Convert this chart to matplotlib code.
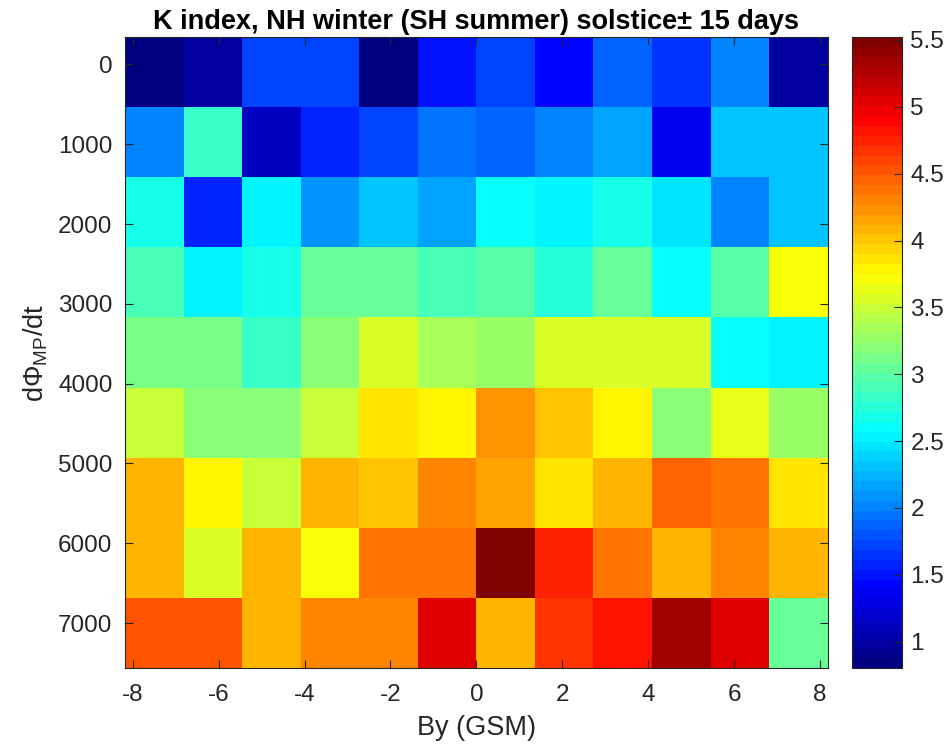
import numpy as np
import matplotlib
matplotlib.use("Agg")
import matplotlib.pyplot as plt
from matplotlib.colors import LinearSegmentedColormap

plt.rcParams['font.family'] = ['Liberation Sans', 'DejaVu Sans']
plt.rcParams['axes.unicode_minus'] = False
plt.rcParams['mathtext.fontset'] = 'custom'
plt.rcParams['mathtext.rm'] = 'Liberation Sans'
plt.rcParams['mathtext.it'] = 'Liberation Sans'

# Data
by_edges = np.linspace(-8.18, 8.18, 13)          # By (GSM) bin edges
dphi_edges = np.linspace(-340, 7560, 10)         # dPhi_MP/dt bin edges
x_ticks = [-8, -6, -4, -2, 0, 2, 4, 6, 8]
y_ticks = [0, 1000, 2000, 3000, 4000, 5000, 6000, 7000]
cbar_ticks = [1, 1.5, 2, 2.5, 3, 3.5, 4, 4.5, 5, 5.5]
cbar_labels = ['1', '1.5', '2', '2.5', '3', '3.5', '4', '4.5', '5', '5.5']
clim = (0.80, 5.52)

k_index = np.array([
    [0.82, 1.02, 1.70, 1.70, 0.86, 1.53, 1.74, 1.45, 1.84, 1.68, 2.04, 1.02],
    [1.98, 2.81, 1.10, 1.59, 1.74, 1.96, 1.89, 2.02, 2.19, 1.39, 2.33, 2.28],
    [2.71, 1.60, 2.51, 2.06, 2.28, 2.13, 2.63, 2.51, 2.71, 2.43, 2.04, 2.28],
    [2.87, 2.51, 2.71, 3.02, 3.02, 2.87, 2.95, 2.78, 3.02, 2.64, 2.95, 3.68],
    [3.09, 3.12, 2.81, 3.23, 3.54, 3.38, 3.25, 3.54, 3.60, 3.54, 2.57, 2.51],
    [3.46, 3.23, 3.16, 3.46, 3.87, 3.75, 4.20, 3.99, 3.75, 3.16, 3.61, 3.25],
    [4.05, 3.75, 3.46, 4.05, 3.99, 4.27, 4.13, 3.83, 4.05, 4.48, 4.41, 3.83],
    [4.05, 3.54, 4.05, 3.68, 4.34, 4.41, 5.51, 4.71, 4.34, 4.05, 4.27, 4.05],
    [4.56, 4.56, 4.05, 4.27, 4.27, 5.07, 4.05, 4.64, 4.79, 5.30, 5.07, 3.02],
])

# MATLAB-style jet(64)
jet_m = LinearSegmentedColormap.from_list(
    'jet_m',
    [(0.0, (0, 0, 0.5)), (0.125, (0, 0, 1)), (0.375, (0, 1, 1)),
     (0.625, (1, 1, 0)), (0.875, (1, 0, 0)), (1.0, (0.5, 0, 0))], N=64)

fig = plt.figure(figsize=(9.46, 7.51), dpi=100)
ax = fig.add_axes([125/946, 1-667.7/751, (827.7-125)/946, (667.7-37.3)/751])
cax = fig.add_axes([852.3/946, 1-668.3/751, (902-852.3)/946, (668.3-37.3)/751])

mesh = ax.pcolormesh(by_edges, dphi_edges, k_index, cmap=jet_m,
                     vmin=clim[0], vmax=clim[1])
ax.set_xlim(by_edges[0], by_edges[-1])
ax.set_ylim(dphi_edges[-1], dphi_edges[0])
ax.set_xticks(x_ticks)
ax.set_yticks(y_ticks)
ax.tick_params(direction='in', top=True, right=True, length=6,
               color='#262626', labelsize=17.5, labelcolor='#262626', width=0.8)
ax.tick_params(axis='x', pad=12)
ax.tick_params(axis='y', pad=9)
for s in ax.spines.values():
    s.set_color('#262626')
    s.set_linewidth(0.8)
ax.set_xlabel('By (GSM)', fontsize=19.5, color='#262626', labelpad=6)
ax.set_ylabel(r'd$\Phi_{\mathrm{MP}}$/dt', fontsize=19.5, color='#262626', labelpad=6)
ax.set_title('K index, NH winter (SH summer) solstice\u00b1 15 days',
             fontsize=19.5, fontweight='bold', pad=6)

cb = fig.colorbar(mesh, cax=cax, ticks=cbar_ticks)
cb.ax.set_yticklabels(cbar_labels)
cb.ax.tick_params(direction='in', length=6, color='#262626', labelsize=17.5,
                  labelcolor='#262626', width=0.8, pad=6)
cb.outline.set_edgecolor('#262626')
cb.outline.set_linewidth(0.8)

fig.savefig('out.png', dpi=100)
